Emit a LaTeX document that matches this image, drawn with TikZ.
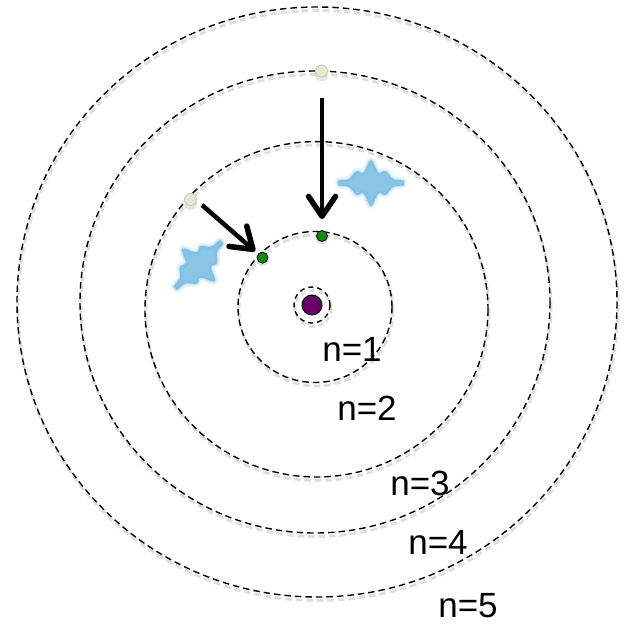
\documentclass[tikz,border=0pt]{standalone}
\usepackage{fontspec}
\setmainfont{Liberation Sans}
\usetikzlibrary{arrows.meta}

\definecolor{nucleuscol}{HTML}{660066}
\definecolor{groundcol}{HTML}{138A13}
\definecolor{excitedcol}{HTML}{E4EDCB}
\definecolor{photonblue}{HTML}{6DB7DF}

\tikzset{
  declare function={pf(\t)=1.8+21*exp(0-(\t)*(\t)/300)*(0.5+0.5*pow(cos(11.25*(\t)),2));},
  orbit/.style={draw=black, line width=1.4pt, dash pattern=on 6.5pt off 4pt},
  orbitshadow/.style={draw=black!13, line width=2.8pt, dash pattern=on 6.5pt off 4pt},
  groundelectron/.style={circle, draw=black, line width=0.8pt, fill=groundcol,
    minimum size=11pt, inner sep=0pt},
  excitedelectron/.style={circle, draw=black!22, line width=0.8pt, fill=excitedcol,
    minimum size=12pt, inner sep=0pt},
  blobshadow/.style={fill=black!15, opacity=0.7},
  jump/.style={line width=4.5pt,
    -{Straight Barb[length=20pt,width=27pt,line width=5.5pt,round]}},
  level/.style={font=\fontsize{35}{40}\selectfont, inner sep=0pt},
  photon/.pic={
    % soft rim built from wide translucent strokes, then the body
    \foreach \w/\o in {7/0.08, 4.5/0.12, 2.2/0.2}{
      \draw[photonblue, line width=\w pt, opacity=\o, line join=round]
        plot[domain=-33:33, samples=120, smooth] (\x,{pf(\x)})
        -- plot[domain=33:-33, samples=120, smooth] (\x,{-pf(\x)}) -- cycle;
    }
    \fill[photonblue, opacity=0.8]
      plot[domain=-33:33, samples=120, smooth] (\x,{pf(\x)})
      -- plot[domain=33:-33, samples=120, smooth] (\x,{-pf(\x)}) -- cycle;
  }
}

\begin{document}
\begin{tikzpicture}[x=1pt, y=-1pt]
  \useasboundingbox[fill=white] (0,0) rectangle (624,624);

  % soft shadows under the orbits
  \foreach \cx/\cy/\rx/\ry in {317/302/300/295, 315/302/235/231,
      316.5/309.3/171.5/167.7, 315/307/77/75.5}{
    \draw[orbitshadow] (\cx+1,\cy+3.5) ellipse[x radius=\rx, y radius=\ry];
  }
  \draw[orbitshadow, dash pattern=on 5pt off 4pt] (313,308.5) circle[radius=18];

  % orbits n=5 ... n=2
  \foreach \cx/\cy/\rx/\ry in {317/302/300/295, 315/302/235/231,
      316.5/309.3/171.5/167.7, 315/307/77/75.5}{
    \draw[orbit] (\cx,\cy) ellipse[x radius=\rx, y radius=\ry];
  }

  % nucleus with its innermost orbit
  \node[circle, fill=nucleuscol, draw=black, line width=1pt, minimum size=20pt,
    inner sep=0pt] (nucleus) at (312,305) {};
  \draw[orbit, dash pattern=on 5pt off 4pt] (nucleus.center) circle[radius=18];

  % emitted photons
  \pic at (371,183) {photon};
  \pic[rotate=45] at (198.5,265) {photon};

  % electrons before and after the jump
  \fill[blobshadow] (321.5,75) circle[radius=6.5];
  \fill[blobshadow] (190.5,203.5) circle[radius=6.5];
  \fill[blobshadow] (322,238.5) circle[radius=6];
  \fill[blobshadow] (262.5,260) circle[radius=6];
  \node[excitedelectron] (efour) at (321.5,71) {};
  \node[excitedelectron] (ethree) at (190.5,199.5) {};
  \node[groundelectron] (etop) at (322,236) {};
  \node[groundelectron] (eside) at (262.5,257.7) {};

  % transitions
  \coordinate (jumpfour) at (322,98);
  \coordinate (jumpthree) at (202,205);
  \draw[jump, shorten >=11pt] (jumpfour) -- (etop);
  \draw[jump, shorten >=4pt] (jumpthree) -- (eside);

  % level labels
  \node[level] (lone)   at (352,349) {n=1};
  \node[level] (ltwo)   at (367,408) {n=2};
  \node[level] (lthree) at (420,483) {n=3};
  \node[level] (lfour)  at (438,542) {n=4};
  \node[level] (lfive)  at (468,606) {n=5};
\end{tikzpicture}
\end{document}
